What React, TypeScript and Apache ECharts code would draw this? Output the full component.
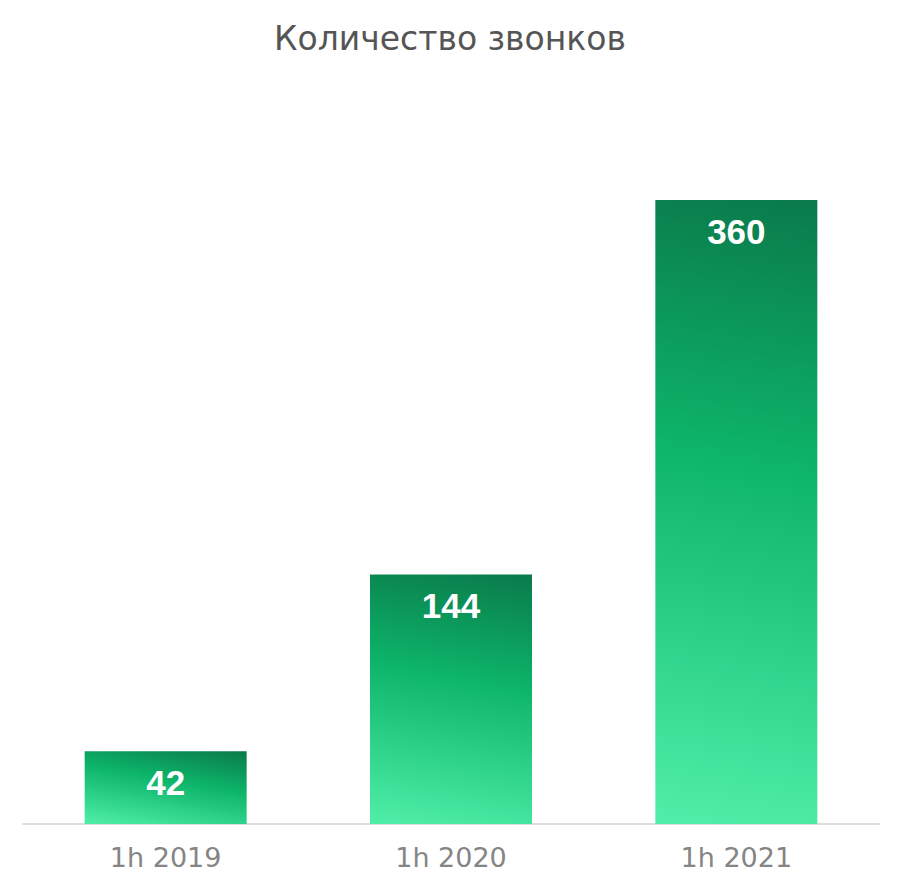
import React, { useEffect, useRef } from "react";
import * as echarts from "echarts";

const categories = ["1h 2019", "1h 2020", "1h 2021"];
const calls = [42, 144, 360];
const title = "Количество звонков";

const BAR_WIDTH = 162;
const ANGLE = (10 * Math.PI) / 180;
const STOPS = [
  { offset: 0, color: "#0a7a4b" },
  { offset: 0.42, color: "#0db56a" },
  { offset: 1, color: "#50efa9" },
];

export default function App() {
  const ref = useRef<HTMLDivElement>(null);
  useEffect(() => {
    if (!ref.current) return;
    const chart = echarts.init(ref.current, null, { renderer: "svg" });
    chart.setOption({
      animation: false,
      title: {
        text: title,
        left: "center",
        top: 17,
        textStyle: {
          fontFamily: "DejaVu Sans, sans-serif",
          fontSize: 33,
          fontWeight: "normal",
          color: "#555555",
        },
      },
      grid: { left: 23, right: 21, top: 200, bottom: 54 },
      xAxis: {
        type: "category",
        data: categories,
        axisLine: { lineStyle: { color: "#dddddd", width: 2 } },
        axisTick: { show: false },
        axisLabel: {
          margin: 20,
          fontFamily: "DejaVu Sans, sans-serif",
          fontSize: 27,
          color: "#858585",
        },
      },
      yAxis: {
        type: "value",
        min: 0,
        max: 360,
        show: false,
        splitLine: { show: false },
      },
      series: [
        {
          type: "bar",
          data: calls,
          barWidth: BAR_WIDTH,
          itemStyle: { color: "#12bd71" },
          label: {
            show: true,
            position: "insideTop",
            distance: 14,
            fontFamily: "Liberation Sans, Arial, sans-serif",
            fontSize: 35,
            fontWeight: "bold",
            color: "#ffffff",
          },
        },
      ],
    });
    // per-bar gradient at a fixed angle (like a CSS linear-gradient)
    const data = calls.map((v, i) => {
      const top = chart.convertToPixel({ seriesIndex: 0 }, [i, v]) as number[];
      const bot = chart.convertToPixel({ seriesIndex: 0 }, [i, 0]) as number[];
      const cx = top[0];
      const cy = (top[1] + bot[1]) / 2;
      const h = Math.abs(bot[1] - top[1]);
      const L = BAR_WIDTH * Math.sin(ANGLE) + h * Math.cos(ANGLE);
      const dx = (Math.sin(ANGLE) * L) / 2;
      const dy = (Math.cos(ANGLE) * L) / 2;
      return {
        value: v,
        itemStyle: {
          color: new echarts.graphic.LinearGradient(
            cx + dx,
            cy - dy,
            cx - dx,
            cy + dy,
            STOPS,
            true
          ),
        },
      };
    });
    chart.setOption({ series: [{ data }] });
    return () => chart.dispose();
  }, []);
  return <div ref={ref} style={{ width: 900, height: 878, margin: -8 }} />;
}
